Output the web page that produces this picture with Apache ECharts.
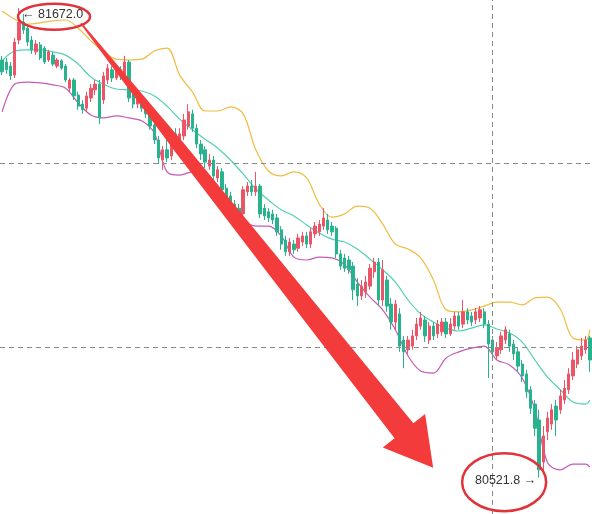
<!DOCTYPE html>
<html><head><meta charset="utf-8">
<script src="https://cdn.jsdelivr.net/npm/echarts@6/dist/echarts.min.js"></script>
<style>html,body{margin:0;padding:0;background:#fff;overflow:hidden}#c{width:592px;height:514px}</style>
</head><body><div id="c"></div>
<script>
// OHLC candles: [open, close, low, high]
const candles = [
[81545,81516,81508,81555],[81540,81521,81511,81550],[81530,81506,81496,81540],[81508,81589,81501,81599],
[81594,81638,81584,81672.0],[81638,81619,81609,81658],[81623,81589,81579,81633],[81594,81570,81560,81604],
[81565,81584,81557,81594],[81582,81550,81545,81589],[81574,81540,81535,81579],[81545,81565,81540,81570],
[81557,81535,81530,81565],[81530,81545,81525,81550],[81543,81525,81521,81547],[81530,81496,81491,81535],
[81476,81496,81467,81501],[81496,81457,81447,81501],[81459,81432,81423,81467],[81437,81423,81413,81447],
[81427,81457,81418,81467],[81452,81476,81442,81486],[81472,81486,81459,81496],[81486,81403,81388,81496],
[81447,81506,81437,81516],[81496,81525,81486,81535],[81521,81501,81491,81530],[81501,81521,81496,81530],
[81521,81506,81496,81530],[81506,81540,81496,81555],[81540,81452,81442,81545],[81462,81437,81427,81472],
[81437,81457,81427,81467],[81452,81427,81418,81459],[81437,81413,81403,81447],[81418,81383,81374,81427],
[81386,81349,81339,81398],[81349,81305,81290,81359],[81300,81325,81276,81334],[81325,81305,81295,81349],
[81310,81359,81300,81374],[81364,81344,81334,81378],[81339,81364,81329,81378],[81359,81398,81349,81413],
[81383,81418,81374,81437],[81413,81378,81369,81423],[81378,81339,81329,81388],[81339,81315,81300,81349],
[81325,81295,81280,81334],[81285,81300,81276,81315],[81300,81261,81251,81310],[81256,81276,81246,81285],
[81271,81227,81217,81280],[81231,81207,81197,81241],[81212,81187,81178,81222],[81192,81173,81163,81202],
[81182,81168,81153,81192],[81168,81227,81158,81236],[81222,81236,81212,81246],[81236,81222,81212,81251],
[81222,81236,81212,81271],[81236,81168,81158,81241],[81182,81163,81153,81192],[81173,81158,81148,81182],
[81168,81153,81143,81178],[81158,81124,81114,81168],[81129,81094,81080,81138],[81104,81075,81065,81114],
[81075,81099,81065,81109],[81094,81080,81070,81104],[81084,81109,81075,81119],[81099,81114,81089,81124],
[81114,81094,81084,81124],[81094,81124,81084,81133],[81119,81138,81109,81148],[81124,81143,81114,81153],
[81138,81158,81129,81182],[81153,81129,81119,81168],[81138,81124,81114,81148],[81133,81070,81060,81138],
[81070,81040,81031,81080],[81060,81035,81026,81070],[81055,81031,81021,81065],[81040,80982,80957,81050],
[80996,80967,80942,81011],[80967,80991,80957,81006],[80977,81001,80962,81016],[80991,81035,80982,81045],
[81026,81050,81011,81060],[81050,80957,80942,81060],[80957,81031,80942,81055],[81006,80942,80928,81016],
[80947,80903,80884,80962],[80903,80947,80884,80957],[80923,80844,80830,80937],[80859,80830,80790,80869],
[80835,80859,80825,80869],[80844,80869,80835,80884],[80869,80898,80859,80913],[80893,80913,80884,80928],
[80908,80869,80854,80918],[80859,80893,80849,80903],[80893,80869,80859,80903],[80874,80898,80864,80908],
[80879,80903,80869,80913],[80903,80874,80864,80913],[80874,80898,80869,80913],[80893,80918,80884,80928],
[80918,80893,80884,80928],[80898,80928,80888,80957],[80928,80908,80898,80937],[80918,80903,80893,80928],
[80908,80928,80898,80937],[80913,80933,80903,80942],[80928,80898,80888,80937],[80898,80849,80766,80908],
[80859,80830,80815,80869],[80820,80839,80810,80854],[80835,80869,80825,80879],[80859,80884,80849,80893],
[80874,80844,80830,80884],[80849,80825,80810,80859],[80830,80795,80781,80839],[80800,80771,80756,80810],
[80776,80732,80717,80786],[80737,80692,80678,80746],[80702,80643,80624,80712],[80663,80541,80521.8,80688],
[80560,80624,80541,80648],[80634,80668,80614,80683],[80653,80688,80639,80702],[80697,80663,80624,80712],
[80688,80722,80678,80737],[80712,80741,80702,80761],[80737,80776,80727,80790],[80771,80810,80761,80830],
[80800,80835,80790,80844],[80820,80844,80810,80864],[80835,80859,80825,80869],[80864,80810,80781,80869]
];
const categories = candles.map((_, i) => String(i));

// Bollinger bands read at these candle positions
const bandIdx = [0,3,6,9,12,15,18,21,24,27,30,33,36,39,42,45,48,51,54,57,60,63,66,69,72,75,78,81,84,87,90,93,96,99,102,105,108,111,114,117,120,123,126,129,132,135,138,139];
const upperBand = [81665,81645,81633,81636,81641,81643,81623,81592,81565,81547,81545,81547,81567,81574,81508,81467,81420,81420,81430,81413,81325,81273,81261,81271,81256,81192,81160,81168,81187,81182,81143,81094,81082,81060,81006,80933,80928,80933,80942,80952,80952,80945,80962,80964,80935,80864,80859,80884];
const middleBand = [81543,81567,81570,81570,81565,81557,81535,81503,81486,81474,81472,81469,81457,81432,81400,81374,81351,81329,81300,81266,81229,81202,81178,81163,81141,81121,81106,81099,81082,81057,81031,81001,80957,80923,80903,80888,80881,80888,80896,80886,80876,80854,80810,80768,80737,80707,80702,80712];
const lowerBand = [81418,81486,81491,81489,81484,81476,81440,81410,81403,81408,81403,81396,81366,81271,81263,81271,81251,81222,81190,81153,81138,81138,81114,81062,81055,81062,81060,81043,81001,80964,80933,80884,80820,80783,80778,80815,80830,80839,80844,80810,80798,80766,80688,80558,80541,80555,80555,80548];

const levelLines = [81293, 80842];
const markerCandle = '116';
const highIdx = 4, highValue = 81672.0, highText = '\u2190 81672.0';
const lowIdx = 127, lowValue = 80521.8, lowText = '80521.8 \u2192';

const UP = '#ec5468', DOWN = '#27b38d';
const chart = echarts.init(document.getElementById('c'), null, {renderer: 'canvas'});
const pair = arr => bandIdx.map((i, k) => [i, arr[k]]);
const bandLine = (data, color) => ({
  type: 'line', data: pair(data), smooth: 0.35, showSymbol: false, silent: true,
  lineStyle: {color, width: 1.2}, z: 1
});
chart.setOption({
  animation: false,
  backgroundColor: '#ffffff',
  grid: {left: 0, right: 0, top: 0, bottom: 0},
  xAxis: {type: 'category', data: categories, boundaryGap: true, show: false},
  yAxis: {type: 'value', min: 80432.7, max: 81692, show: false, splitLine: {show: false}},
  series: [
    {
      type: 'candlestick', data: candles, barWidth: 2.8, z: 3,
      itemStyle: {color: UP, color0: DOWN, borderColor: UP, borderColor0: DOWN, borderWidth: 1},
      markLine: {
        silent: true, symbol: 'none', label: {show: false},
        lineStyle: {color: '#8a8a8a', type: [5, 4], width: 1},
        data: [{yAxis: levelLines[0]}, {yAxis: levelLines[1]}, {xAxis: markerCandle}]
      }
    },
    bandLine(upperBand, '#efbd45'),
    bandLine(middleBand, '#52cfb4'),
    bandLine(lowerBand, '#c45bb8')
  ]
});

function arrowPoly(T, P) {
  const dx = P[0] - T[0], dy = P[1] - T[1], L = Math.hypot(dx, dy);
  const ux = dx / L, uy = dy / L, nx = -uy, ny = ux;
  const headLen = 47, headHalf = 27;
  const shaftLen = L - headLen;
  const prof = [[0, 0.8], [0.3, 6], [0.6, 8.7], [1, 12]];
  const left = [], right = [];
  prof.forEach(([t, h]) => {
    const cx = T[0] + ux * shaftLen * t, cy = T[1] + uy * shaftLen * t;
    left.push([cx + nx * h, cy + ny * h]);
    right.push([cx - nx * h, cy - ny * h]);
  });
  const bx = T[0] + ux * shaftLen, by = T[1] + uy * shaftLen;
  return left.concat([[bx + nx * headHalf, by + ny * headHalf], P, [bx - nx * headHalf, by - ny * headHalf]], right.reverse());
}

const hp = chart.convertToPixel({seriesIndex: 0}, [highIdx, highValue]);
const lp = chart.convertToPixel({seriesIndex: 0}, [lowIdx, lowValue]);
const tail = [hp[0] + 62, hp[1] + 15];
const tip = [lp[0] - 106, lp[1] - 10];
const FONT = '12.5px "Liberation Sans", Arial, sans-serif';
chart.setOption({
  graphic: [
    {type: 'text', z: 10, style: {text: highText, x: hp[0] + 3, y: hp[1] + 6, font: FONT, fill: '#333', textAlign: 'left', textVerticalAlign: 'middle'}},
    {type: 'text', z: 10, style: {text: lowText, x: lp[0] - 3, y: lp[1] + 3, font: FONT, fill: '#333', textAlign: 'right', textVerticalAlign: 'middle'}},
    {type: 'polygon', z: 11, shape: {points: arrowPoly(tail, tip)}, style: {fill: '#f43b3b'}},
    {type: 'ellipse', z: 12, shape: {cx: hp[0] + 35, cy: hp[1] + 8.5, rx: 36, ry: 13}, style: {fill: 'none', stroke: '#e0333a', lineWidth: 2.5}},
    {type: 'ellipse', z: 12, shape: {cx: lp[0] - 35, cy: lp[1] + 4.5, rx: 42, ry: 29}, style: {fill: 'none', stroke: '#e0333a', lineWidth: 2.5}}
  ]
});
</script>
</body></html>
